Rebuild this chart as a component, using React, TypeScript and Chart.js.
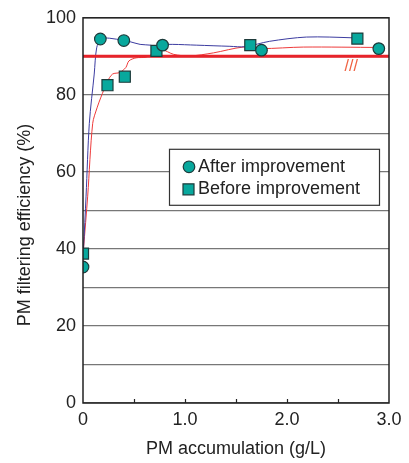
import React, { useEffect, useRef } from "react";
import { Chart, registerables } from "chart.js";

Chart.register(...registerables);

// Markers
const afterX = [0, 0.17, 0.4, 0.78, 1.75, 2.9];
const afterY = [35.3, 94.5, 94.1, 92.9, 91.6, 92.0];
const beforeX = [0, 0.24, 0.41, 0.72, 1.64, 2.69];
const beforeY = [38.8, 82.5, 84.7, 91.4, 92.9, 94.6];

// Blue fitted curve (after improvement)
const blueX = [0.005, 0.03, 0.062, 0.11, 0.134, 0.176, 0.26, 0.4, 0.46, 0.56, 0.66, 0.72, 0.78, 0.88, 1.11, 1.44, 1.59, 1.83, 2.19, 2.65, 2.69];
const blueY = [40, 53.7, 72.6, 85.4, 92.2, 94.5, 94.7, 94.1, 93.8, 93.1, 92.9, 92.5, 93.0, 93.1, 92.9, 92.6, 92.5, 93.9, 95.0, 94.8, 94.6];

// Red fitted curve (before improvement)
const redX = [0.005, 0.046, 0.095, 0.14, 0.176, 0.24, 0.29, 0.36, 0.42, 0.45, 0.52, 0.62, 0.72, 0.77, 0.89, 1.05, 1.28, 1.57, 1.75, 2.16, 2.9];
const redY = [40, 53.7, 72.6, 76.8, 79.4, 83.5, 85.4, 85.8, 87.1, 88.8, 89.6, 89.8, 91.2, 91.8, 90.5, 90.1, 90.9, 92.4, 92.0, 92.4, 92.3];

// Target line
const targetX = [0, 3];
const targetY = [90, 90];

const xTickLabels: Record<string, string> = { "0": "0", "1": "1.0", "2": "2.0", "3": "3.0" };
const legendLabels = ["After improvement", "Before improvement"];
const xTitle = "PM accumulation (g/L)";
const yTitle = "PM filtering efficiency (%)";

const FONT = "'Liberation Sans', Arial, Helvetica, sans-serif";
const TEAL = "#08a89d";
const MARK_BORDER = "#1d3b3b";

const pts = (xs: number[], ys: number[]) => xs.map((x, i) => ({ x, y: ys[i] }));

export default function App() {
  const ref = useRef<HTMLCanvasElement | null>(null);

  useEffect(() => {
    if (!ref.current) return;

    const decor = {
      id: "decor",
      afterDatasetsDraw(chart: any) {
        const { ctx, chartArea } = chart;
        const xs = chart.scales.x;
        const ys = chart.scales.y;
        ctx.save();
        // frame
        ctx.strokeStyle = "#222";
        ctx.lineWidth = 1.5;
        ctx.strokeRect(chartArea.left, chartArea.top, chartArea.right - chartArea.left, chartArea.bottom - chartArea.top);
        // inward x ticks
        ctx.lineWidth = 1.2;
        for (let v = 0.5; v < 3; v += 0.5) {
          const px = Math.round(xs.getPixelForValue(v)) + 0.5;
          ctx.beginPath();
          ctx.moveTo(px, chartArea.bottom);
          ctx.lineTo(px, chartArea.bottom - 4);
          ctx.stroke();
        }
        // /// mark
        ctx.fillStyle = "#f0603f";
        ctx.font = `16px ${FONT}`;
        ctx.textAlign = "center";
        ctx.textBaseline = "middle";
        ctx.fillText("///", xs.getPixelForValue(2.63), ys.getPixelForValue(87.3));

        // legend
        const lx = chartArea.left + 86;
        const ly = chartArea.top + 131;
        const lw = 210;
        const lh = 56;
        ctx.fillStyle = "#fff";
        ctx.fillRect(lx, ly, lw, lh);
        ctx.strokeStyle = "#333";
        ctx.lineWidth = 1.2;
        ctx.strokeRect(lx + 0.5, ly + 0.5, lw, lh);
        // circle
        ctx.fillStyle = TEAL;
        ctx.strokeStyle = MARK_BORDER;
        ctx.lineWidth = 1.2;
        ctx.beginPath();
        ctx.arc(lx + 20, ly + 18, 5.8, 0, Math.PI * 2);
        ctx.fill();
        ctx.stroke();
        // square
        ctx.beginPath();
        ctx.rect(lx + 14, ly + 35, 11, 11);
        ctx.fill();
        ctx.stroke();
        ctx.fillStyle = "#222";
        ctx.font = `18px ${FONT}`;
        ctx.textAlign = "left";
        ctx.textBaseline = "middle";
        ctx.fillText(legendLabels[0], lx + 29, ly + 18);
        ctx.fillText(legendLabels[1], lx + 29, ly + 40);

        // y title
        ctx.save();
        ctx.translate(25, 225);
        ctx.rotate(-Math.PI / 2);
        ctx.textAlign = "center";
        ctx.textBaseline = "middle";
        ctx.fillStyle = "#222";
        ctx.font = `18px ${FONT}`;
        ctx.fillText(yTitle, 0, 0);
        ctx.restore();

        ctx.restore();
      },
    };

    const chart = new Chart(ref.current, {
      type: "scatter",
      data: {
        datasets: [
          {
            label: legendLabels[0],
            data: pts(afterX, afterY),
            pointStyle: "circle",
            pointRadius: 5.8,
            pointBackgroundColor: TEAL,
            pointBorderColor: MARK_BORDER,
            pointBorderWidth: 1.2,
            showLine: false,
            order: 0,
          } as any,
          {
            label: legendLabels[1],
            data: pts(beforeX, beforeY),
            pointStyle: "rect",
            pointRadius: 7.8,
            pointBackgroundColor: TEAL,
            pointBorderColor: MARK_BORDER,
            pointBorderWidth: 1.2,
            showLine: false,
            order: 1,
          } as any,
          {
            label: "blue",
            data: pts(blueX, blueY),
            showLine: true,
            borderColor: "#3c3ca0",
            borderWidth: 1,
            pointRadius: 0,
            tension: 0.3,
            order: 3,
          } as any,
          {
            label: "red",
            data: pts(redX, redY),
            showLine: true,
            borderColor: "#ee3b3b",
            borderWidth: 1,
            pointRadius: 0,
            tension: 0.3,
            order: 4,
          } as any,
          {
            label: "target",
            data: pts(targetX, targetY),
            showLine: true,
            borderColor: "#e8232a",
            borderWidth: 3,
            pointRadius: 0,
            order: 2,
          } as any,
        ],
      },
      options: {
        responsive: false,
        animation: false,
        events: [],
        layout: { padding: { top: 13, right: 20, left: 0, bottom: 0 } },
        plugins: {
          legend: { display: false },
          tooltip: { enabled: false },
          title: { display: false },
        },
        scales: {
          x: {
            type: "linear",
            min: 0,
            max: 3,
            afterFit: (s: any) => {
              s.height = 60;
            },
            grid: { display: false, drawTicks: false },
            border: { display: false },
            ticks: {
              stepSize: 0.5,
              autoSkip: false,
              maxRotation: 0,
              padding: 6,
              color: "#222",
              font: { family: FONT, size: 18 },
              callback: (v: any) => xTickLabels[String(v)] ?? "",
            },
            title: {
              display: true,
              text: xTitle,
              color: "#222",
              font: { family: FONT, size: 18 },
              padding: { top: 0, bottom: 3 },
            },
          },
          y: {
            type: "linear",
            min: 0,
            max: 100,
            afterFit: (s: any) => {
              s.width = 83;
            },
            grid: { color: "#777", lineWidth: 1.3, drawTicks: false },
            border: { display: false },
            ticks: {
              stepSize: 10,
              autoSkip: false,
              padding: 7,
              color: "#222",
              font: { family: FONT, size: 18 },
              callback: (v: any) => (Number(v) % 20 === 0 ? String(v) : ""),
            },
          },
        },
      },
      plugins: [decor],
    } as any);

    return () => chart.destroy();
  }, []);

  return (
    <div style={{ position: "fixed", left: 0, top: 0, width: 409, height: 463, background: "#fff" }}>
      <canvas ref={ref} width={409} height={463} style={{ width: 409, height: 463, display: "block" }} />
    </div>
  );
}
